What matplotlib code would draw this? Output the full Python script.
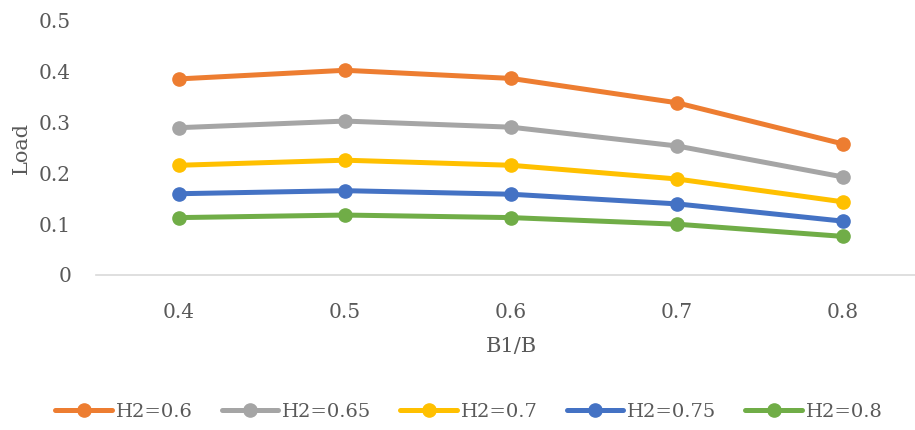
import matplotlib.pyplot as plt
import numpy as np

plt.rcParams['font.family'] = ['DejaVu Serif']

# B1/B categories and load for each H2
categories = ['0.4', '0.5', '0.6', '0.7', '0.8']
series_names = ['H2=0.6', 'H2=0.65', 'H2=0.7', 'H2=0.75', 'H2=0.8']
load_h06 = [0.386, 0.403, 0.387, 0.339, 0.258]
load_h065 = [0.290, 0.303, 0.291, 0.254, 0.193]
load_h07 = [0.216, 0.226, 0.216, 0.189, 0.144]
load_h075 = [0.160, 0.166, 0.159, 0.140, 0.106]
load_h08 = [0.113, 0.118, 0.113, 0.100, 0.076]
y_ticks = [0, 0.1, 0.2, 0.3, 0.4, 0.5]
y_tick_labels = ['0', '0.1', '0.2', '0.3', '0.4', '0.5']

colors = ['#ED7D31', '#A5A5A5', '#FFC000', '#4472C4', '#70AD47']
text_color = '#595959'

fig = plt.figure(figsize=(9.15, 4.3), dpi=100)
ax = fig.add_axes([96 / 915, 1 - 275 / 430, 830 / 915, 254 / 430])

x = np.arange(len(categories))
all_series = [load_h06, load_h065, load_h07, load_h075, load_h08]
for vals, name, c in zip(all_series, series_names, colors):
    ax.plot(x, vals, color=c, lw=3.6, marker='o', markersize=9.5,
            solid_capstyle='round', label=name)

ax.set_xlim(-0.5, len(categories) - 0.5)
ax.set_ylim(0, 0.5)
ax.set_xticks(x)
ax.set_xticklabels(categories)
ax.set_yticks(y_ticks)
ax.set_yticklabels(y_tick_labels)
ax.tick_params(axis='both', length=0, labelsize=14.5, labelcolor=text_color)
ax.tick_params(axis='y', pad=18)
ax.tick_params(axis='x', pad=20)

for side in ['top', 'right', 'left']:
    ax.spines[side].set_visible(False)
ax.spines['bottom'].set_color('#D9D9D9')
ax.spines['bottom'].set_linewidth(1.2)

ax.set_xlabel('B1/B', fontsize=15, color=text_color)
ax.set_ylabel('Load', fontsize=15, color=text_color, labelpad=6)
ax.xaxis.set_label_coords((511 - 96) / 830, -62 / 254)

fig.legend(loc='center', bbox_to_anchor=(469 / 915, 1 - 412 / 430), ncol=5,
           frameon=False, fontsize=14, labelcolor=text_color,
           handlelength=2.9, handletextpad=0.2, columnspacing=1.5)

fig.savefig('out.png', dpi=100)
